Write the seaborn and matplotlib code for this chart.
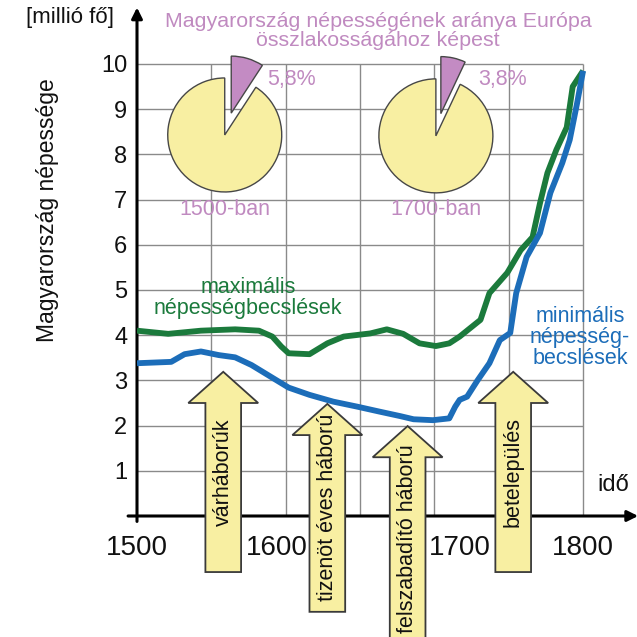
import matplotlib
matplotlib.use("Agg")
import matplotlib.pyplot as plt
import numpy as np
import pandas as pd
import seaborn as sns

# population estimates (million people)
max_years = [1500, 1521, 1543, 1566, 1582, 1591, 1597, 1602, 1616, 1628, 1639, 1657, 1668,
             1679, 1690, 1701, 1710, 1717, 1731, 1737, 1749, 1758, 1766, 1771, 1776,
             1782, 1789, 1793, 1800]
max_pop = [4.10, 4.03, 4.10, 4.13, 4.10, 3.97, 3.75, 3.60, 3.58, 3.82, 3.97, 4.04, 4.13,
           4.03, 3.82, 3.76, 3.82, 3.97, 4.34, 4.93, 5.38, 5.88, 6.17, 6.92, 7.59,
           8.10, 8.60, 9.50, 9.85]

min_years = [1500, 1523, 1532, 1543, 1555, 1566, 1577, 1588, 1602, 1616, 1632, 1648, 1663,
             1677, 1686, 1699, 1710, 1714, 1717, 1722, 1729, 1737, 1744, 1751, 1755,
             1762, 1771, 1778, 1786, 1791, 1796, 1800]
min_pop = [3.38, 3.41, 3.58, 3.64, 3.56, 3.51, 3.34, 3.12, 2.84, 2.68, 2.53, 2.42, 2.31,
           2.21, 2.14, 2.12, 2.16, 2.42, 2.57, 2.64, 3.00, 3.38, 3.89, 4.05, 4.93,
           5.73, 6.26, 7.15, 7.81, 8.32, 9.14, 9.85]

x_ticks = [1500, 1600, 1700, 1800]
x_tick_pos = [1500, 1594, 1717, 1800]   # labels are nudged sideways around the arrows
y_ticks = [1, 2, 3, 4, 5, 6, 7, 8, 9, 10]
grid_years = [1550, 1600, 1650, 1700, 1750, 1800]

# events shown as arrows: label, year, tip value, bottom value
event_labels = ["várháborúk", "tizenöt éves háború", "felszabadító háború", "betelepülés"]
event_years = [1558, 1628, 1682, 1753]
event_tip = [3.19, 2.48, 1.99, 3.19]
event_bottom = [-1.24, -2.12, -3.0, -1.24]

# pies: share of Europe's population
pie_labels = ["1500-ban", "1700-ban"]
pie_pct_text = ["5,8%", "3,8%"]
pie_drawn_share = [9.2, 7.0]
pie_years = [1559, 1701]
pie_vals = [8.43, 8.41]

GREEN = "#1B7A3C"
BLUE = "#1C6DB9"
PURPLE = "#C38BC3"
PURPLE_TXT = "#C08AC0"
YELLOW = "#F8EFA2"
EDGE = "#474747"
GRID = "#8A8A8A"

sns.set_theme(style="white")
plt.rcParams["font.family"] = ["Liberation Sans", "DejaVu Sans"]

fig = plt.figure(figsize=(6.37, 6.37), dpi=100)
ax = fig.add_axes([137 / 637, 0, 500 / 637, 1])
px_per_year = 1.487
px_per_unit = 45.2
ax.set_xlim(1500, 1500 + 500 / px_per_year)
ax.set_ylim(-121 / px_per_unit, 516 / px_per_unit)
for s in ax.spines.values():
    s.set_visible(False)
ax.set_xticks([])

# grid
ax.vlines(grid_years, 0, 10, color=GRID, lw=1, zorder=1)
ax.hlines(y_ticks, 1500, 1800, color=GRID, lw=1, zorder=1)

# axes with arrows
ax.annotate("", xy=(1837, 0), xytext=(1494, 0),
            arrowprops=dict(arrowstyle="-|>", lw=2.2, color="black", mutation_scale=16,
                            shrinkA=0, shrinkB=0), annotation_clip=False, zorder=2)
ax.annotate("", xy=(1500, 11.25), xytext=(1500, -0.12),
            arrowprops=dict(arrowstyle="-|>", lw=2.2, color="black", mutation_scale=16,
                            shrinkA=0, shrinkB=0), annotation_clip=False, zorder=2)
ax.plot([1494, 1500], [0, 0], color="black", lw=1.5, clip_on=False)

# lines
data = pd.DataFrame({
    "year": max_years + min_years,
    "pop": max_pop + min_pop,
    "series": ["max"] * len(max_years) + ["min"] * len(min_years),
})
sns.lineplot(data=data, x="year", y="pop", hue="series", palette={"max": GREEN, "min": BLUE},
             lw=4.2, ax=ax, legend=False, zorder=5, solid_joinstyle="round", solid_capstyle="butt")
ax.set_xlabel("")

# arrows for events
for lab, yr, tip, bot in zip(event_labels, event_years, event_tip, event_bottom):
    ax.arrow(yr, bot, 0, tip - bot, width=24, head_width=47, head_length=0.69,
             length_includes_head=True, fc=YELLOW, ec="#3A3A3A", lw=1.3, zorder=4)
    ax.text(yr, (tip + bot) / 2, lab, rotation=90, ha="center", va="center",
            fontsize=15.5, color="#111111", zorder=6)

# y ticks and labels
ax.set_yticks(y_ticks)
ax.set_yticklabels([str(v) for v in y_ticks], fontsize=17, color="#111111")
ax.tick_params(axis="y", length=0, pad=7)
ax.set_ylabel("Magyarország népessége", fontsize=16.5, color="#111111")
ax.yaxis.set_label_coords(-78 / 500, 1 - 210 / 637)

for t, xp in zip(x_ticks, x_tick_pos):
    ax.text(xp, -0.71, str(t), ha="center", va="center", fontsize=20, color="#111111")

ax.text(1455, 11.02, "[millió fő]", ha="center", va="center", fontsize=16, color="#111111")
ax.text(1820, 0.69, "idő", ha="center", va="center", fontsize=17, color="#111111")

ax.text(1574.6, 4.82, "maximális\nnépességbecslések", ha="center", va="center",
        fontsize=15.5, color=GREEN, linespacing=1.0, zorder=6)
ax.text(1798, 3.96, "minimális\nnépesség-\nbecslések", ha="center", va="center",
        fontsize=15.5, color=BLUE, linespacing=1.0, zorder=6)

ax.text(1662, 10.73, "Magyarország népességének aránya Európa\nösszlakosságához képest",
        ha="center", va="center", fontsize=15.4, color=PURPLE_TXT, linespacing=0.95)

# pies
r_px = 57
half = 1.45
for share, yr, val, lab, pct in zip(pie_drawn_share, pie_years, pie_vals, pie_labels, pie_pct_text):
    w = 2 * half * r_px / px_per_year
    h = 2 * half * r_px / px_per_unit
    pax = ax.inset_axes([yr - w / 2, val - h / 2, w, h], transform=ax.transData, zorder=3)
    pax.pie([share, 100 - share], colors=[PURPLE, YELLOW], startangle=90, counterclock=False,
            explode=[0.4, 0], wedgeprops=dict(edgecolor=EDGE, linewidth=1))
    pax.set_xlim(-half, half)
    pax.set_ylim(-half, half)
    pax.set_aspect("equal")
    pax.axis("off")
    ax.text(yr, 6.77, lab, ha="center", va="center", fontsize=15.5, color=PURPLE_TXT)
    ax.text(yr + 45, 9.65, pct, ha="center", va="center", fontsize=15.5, color=PURPLE_TXT)

fig.savefig("out.png", dpi=100)
